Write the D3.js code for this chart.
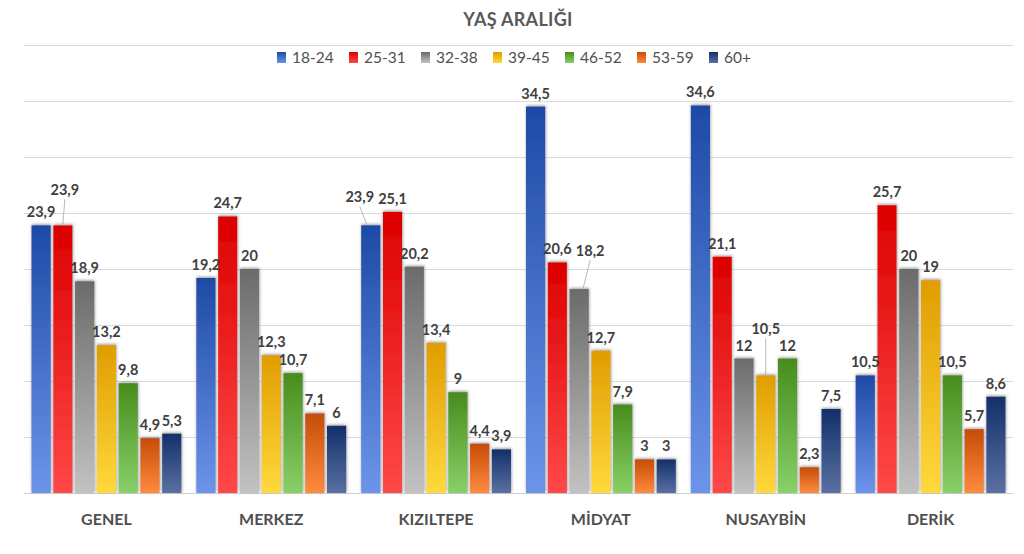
<!DOCTYPE html>
<html><head><meta charset="utf-8">
<script src="https://cdn.jsdelivr.net/npm/d3@7"></script>
<style>body{margin:0;background:#fff}svg{display:block;font-family:Lato,"Open Sans",sans-serif}</style>
</head><body><svg id="c" width="1024" height="554"></svg>
<script>
const title = "YAŞ ARALIĞI";
const categories = ["GENEL","MERKEZ","KIZILTEPE","MİDYAT","NUSAYBİN","DERİK"];
const series = ["18-24","25-31","32-38","39-45","46-52","53-59","60+"];
const v1824 = [23.9,19.2,23.9,34.5,34.6,10.5];
const v2531 = [23.9,24.7,25.1,20.6,21.1,25.7];
const v3238 = [18.9,20,20.2,18.2,12,20];
const v3945 = [13.2,12.3,13.4,12.7,10.5,19];
const v4652 = [9.8,10.7,9,7.9,12,10.5];
const v5359 = [4.9,7.1,4.4,3,2.3,5.7];
const v60 = [5.3,6,3.9,3,7.5,8.6];
const yTicks = [0,5,10,15,20,25,30,35,40];
const colorsTop = ["#1d4aa6","#dc0000","#6b6b6b","#e09d00","#478c1c","#c64c08","#12306a"];
const colorsBot = ["#6c94ea","#ff4848","#c2c2c2","#ffd93c","#88d068","#ff8b3e","#5a70a2"];

(function(){
const values = [v1824,v2531,v3238,v3945,v4652,v5359,v60];
const data = categories.map((c,i)=>({cat:c, vals:series.map((s,j)=>({s, j, v:values[j][i]}))}));

const svg = d3.select("#c");
const defs = svg.append("defs");
series.forEach((s,j)=>{
  const g = defs.append("linearGradient").attr("id","g"+j).attr("x1",0).attr("y1",0).attr("x2",0).attr("y2",1);
  g.append("stop").attr("offset","0%").attr("stop-color",colorsTop[j]);
  g.append("stop").attr("offset","100%").attr("stop-color",colorsBot[j]);
});
const f = defs.append("filter").attr("id","sh").attr("x","-30%").attr("y","-30%").attr("width","160%").attr("height","160%");
f.append("feDropShadow").attr("dx",0.5).attr("dy",-1).attr("stdDeviation",1.6).attr("flood-color","#777").attr("flood-opacity",0.75);

const pL = 24, pR = 1013, pT = 45, pB = 493;
const x0 = d3.scaleBand().domain(categories).range([pL,pR]).padding(0);
const x1 = d3.scaleBand().domain(series).range([7.5, x0.bandwidth()-7.5]).paddingInner(0.12).paddingOuter(0);
const y = d3.scaleLinear().domain([0,40]).range([pB,pT]);

svg.append("g").selectAll("line").data(yTicks).join("line")
  .attr("x1",pL).attr("x2",pR).attr("y1",d=>y(d)+0.5).attr("y2",d=>y(d)+0.5)
  .attr("stroke",d=>d===0?"#d0d0d0":"#d9d9d9").attr("stroke-width",1);

svg.append("text").attr("x",518).attr("y",26).attr("text-anchor","middle")
  .attr("font-size",18).attr("font-weight",700).attr("letter-spacing",0.3).attr("fill","#595959").text(title);

const lg = svg.append("g");
series.forEach((s,j)=>{
  const it = lg.append("g").attr("transform",`translate(${277 + j*72},0)`);
  it.append("rect").attr("x",0).attr("y",52).attr("width",9).attr("height",11).attr("fill",`url(#g${j})`);
  it.append("text").attr("x",15).attr("y",63).attr("font-size",15.5).attr("fill","#505050").text(s);
});

const groups = svg.append("g").selectAll("g").data(data).join("g")
  .attr("transform",d=>`translate(${x0(d.cat)},0)`);
groups.selectAll("rect").data(d=>d.vals).join("rect")
  .attr("x",d=>x1(d.s)).attr("width",x1.bandwidth())
  .attr("y",d=>y(d.v)).attr("height",d=>y(0)-y(d.v))
  .attr("fill",d=>`url(#g${d.j})`).attr("filter","url(#sh)");

// label nudges for overlapping labels: "category-series": [dx, dy]
const nudges = {"0-1":[2,-22],"2-0":[-11,-15],"3-2":[11,-25],"4-3":[0,-33]};
const fmt = v => String(v).replace(".",",");
const labels = svg.append("g");
data.forEach((d,i)=>{
  d.vals.forEach(e=>{
    const cx = x0(d.cat)+x1(e.s)+x1.bandwidth()/2;
    const ty = y(e.v);
    const n = nudges[i+"-"+e.j] || [0,0];
    const lxp = cx+n[0], lyp = ty-8+n[1];
    if(n[0]!==0||n[1]!==0){
      let x2 = cx, x1l = cx;
      if(n[0]<-5){ x2 = lxp; x1l = cx-4; }
      else if(n[0]>5){ x2 = lxp; x1l = cx+4; }
      else { x2 = lxp; }
      labels.append("line").attr("x1",x1l).attr("y1",ty-1).attr("x2",x2).attr("y2",lyp+4)
        .attr("stroke","#a6a6a6").attr("stroke-width",0.8);
    }
    labels.append("text").attr("x",lxp).attr("y",lyp).attr("text-anchor","middle")
      .attr("font-size",14.5).attr("font-weight",700).attr("fill","#404040").text(fmt(e.v));
  });
});

svg.append("g").selectAll("text").data(categories).join("text")
  .attr("x",d=>x0(d)+x0.bandwidth()/2).attr("y",525).attr("text-anchor","middle")
  .attr("font-size",16).attr("font-weight",700).attr("fill","#4f4f4f").text(d=>d);
})();
</script></body></html>
